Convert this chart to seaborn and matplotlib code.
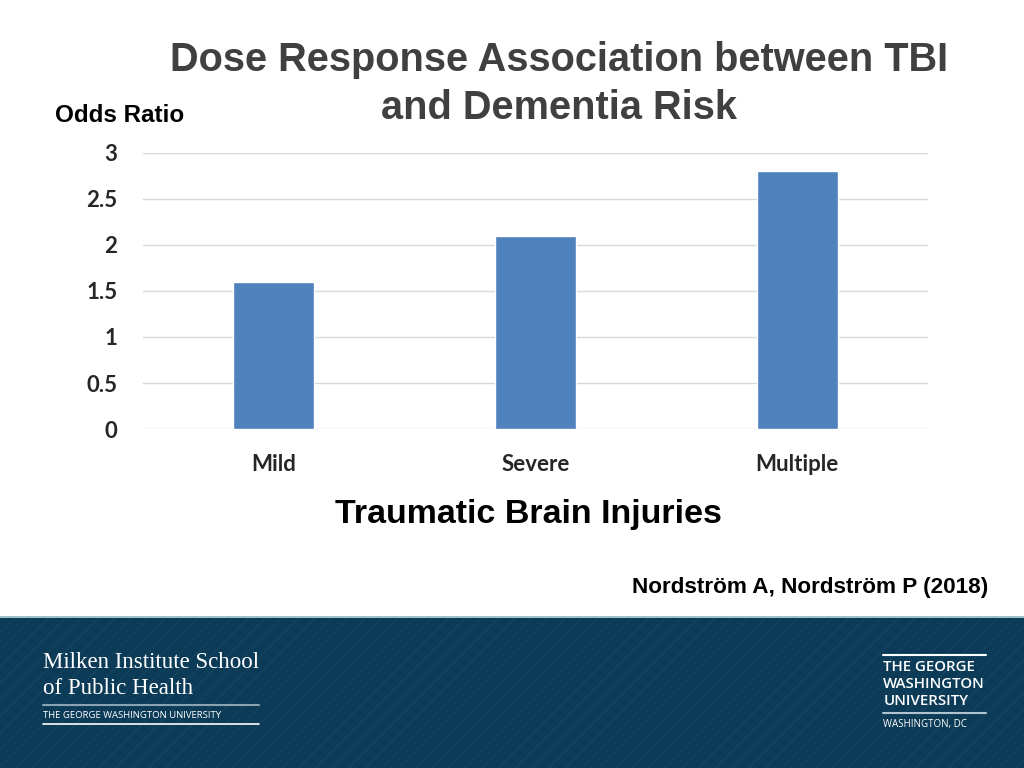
import matplotlib
matplotlib.use('Agg')
import matplotlib.pyplot as plt
import seaborn as sns
import pandas as pd
from matplotlib.patches import Rectangle

categories = ['Mild', 'Severe', 'Multiple']
odds_ratio = [1.6, 2.1, 2.8]
y_ticks = [0, 0.5, 1, 1.5, 2, 2.5, 3]
y_tick_labels = ['0', '0.5', '1', '1.5', '2', '2.5', '3']

df = pd.DataFrame({'Injury': categories, 'Odds': odds_ratio})

sns.set_style('white')
plt.rcParams['font.family'] = ['Liberation Sans', 'DejaVu Sans']
plt.rcParams['hatch.linewidth'] = 0.6

fig = plt.figure(figsize=(10.24, 7.68), dpi=100)
ax = fig.add_axes([0.1396, 0.4414, 0.7666, 0.3594])

sns.barplot(df, x='Injury', y='Odds', color='#4f81bd', width=0.31,
            saturation=1, ax=ax, zorder=3)
ax.set_xlim(-0.5, 2.5)
ax.set_ylim(0, 3)
ax.set_yticks(y_ticks)
ax.set_yticklabels(y_tick_labels, family='Lato', fontweight='bold', fontsize=16)
ax.set_xticks(range(len(categories)))
ax.set_xticklabels(categories, family='Lato', fontweight='bold', fontsize=16)
ax.tick_params(axis='both', length=0)
ax.tick_params(axis='y', pad=18.5)
ax.tick_params(axis='x', pad=18)
ax.set_xlabel('')
ax.set_ylabel('')
for s in ax.spines.values():
    s.set_visible(False)
ax.grid(axis='y', color='#d9d9d9', linewidth=1, zorder=0)
ax.set_axisbelow(True)

# titles
fig.text(0.546, 1 - 60 / 768, 'Dose Response Association between TBI', ha='center', va='center',
         fontsize=28.6, fontweight='bold', color='#404040')
fig.text(0.546, 1 - 108 / 768, 'and Dementia Risk', ha='center', va='center',
         fontsize=28.6, fontweight='bold', color='#404040')
fig.text(0.054, 1 - 115 / 768, 'Odds Ratio', ha='left', va='center',
         fontsize=17.5, fontweight='bold', color='black')
fig.text(0.516, 1 - 514 / 768, 'Traumatic Brain Injuries', ha='center', va='center',
         fontsize=24.5, fontweight='bold', color='black')
fig.text(0.965, 1 - 588 / 768, 'Nordström A, Nordström P (2018)', ha='right', va='center',
         fontsize=16.2, fontweight='bold', color='black')

# footer band
fig.patches.append(Rectangle((0, 0), 1, 150 / 768, transform=fig.transFigure,
                             facecolor='#0c3b57', edgecolor='#1a4863', hatch='//',
                             linewidth=0, zorder=0))
fig.patches.append(Rectangle((0, 150 / 768), 1, 2 / 768, transform=fig.transFigure,
                             facecolor='#9fc0cc', linewidth=0, zorder=1))

serif = ['Liberation Serif', 'DejaVu Serif']
fig.text(0.042, 1 - 662 / 768, 'Milken Institute School', ha='left', va='center',
         family=serif, fontsize=16.5, color='white')
fig.text(0.042, 1 - 688 / 768, 'of Public Health', ha='left', va='center',
         family=serif, fontsize=16.5, color='white')
fig.add_artist(plt.Line2D([0.042, 0.253], [1 - 705 / 768] * 2, color='#8aa3b3', lw=1.5))
fig.text(0.042, 1 - 715 / 768, 'THE GEORGE WASHINGTON UNIVERSITY', ha='left', va='center',
         family='Open Sans', fontsize=6.8, color='white')
fig.add_artist(plt.Line2D([0.042, 0.253], [1 - 724 / 768] * 2, color='white', lw=1.2))

fig.add_artist(plt.Line2D([0.862, 0.963], [1 - 655 / 768] * 2, color='white', lw=1.5))
for txt, yy in [('THE GEORGE', 667), ('WASHINGTON', 684), ('UNIVERSITY', 701)]:
    fig.text(0.8625, 1 - yy / 768, txt, ha='left', va='center',
             family='Open Sans', fontweight='semibold', fontsize=10.8, color='white')
fig.add_artist(plt.Line2D([0.862, 0.963], [1 - 713 / 768] * 2, color='#b0c4d0', lw=1.5))
fig.text(0.8625, 1 - 724 / 768, 'WASHINGTON, DC', ha='left', va='center',
         family='Open Sans', fontsize=7, color='white')

fig.savefig('out.png', dpi=100)
